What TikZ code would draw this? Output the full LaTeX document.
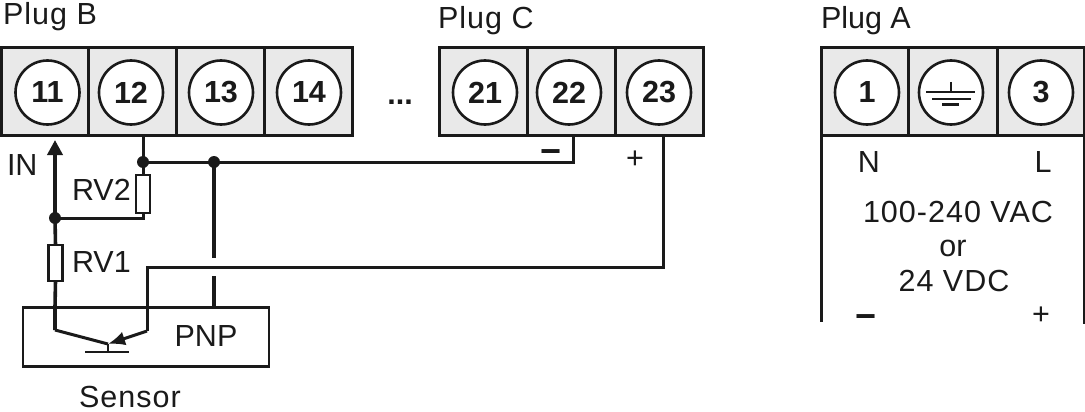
\documentclass[tikz,border=0pt]{standalone}
\usepackage{fontspec}
\setmainfont{Liberation Sans}
\usetikzlibrary{arrows.meta}
\definecolor{ink}{HTML}{1A1A1A}
\definecolor{cell}{HTML}{E9E9E9}
\tikzset{
  every node/.style={inner sep=0pt,outer sep=0pt,text=ink},
  cellbox/.style={draw=ink,line width=3pt,fill=cell,rectangle,minimum width=#1,minimum height=87pt,anchor=north west},
  term/.style={draw=ink,line width=2.6pt,fill=white,circle,minimum size=64pt,font=\fontsize{30.5}{30.5}\selectfont\bfseries},
  wire/.style={draw=ink,line width=3pt},
  heavy wire/.style={draw=ink,line width=3.6pt},
  thin wire/.style={draw=ink,line width=2.6pt},
  lbl/.style={font=\fontsize{30.5}{34}\selectfont,align=center},
  wide lbl/.style={font=\fontsize{30.5}{34}\selectfont\addfontfeature{LetterSpace=3.3},align=center},
  sign/.style={font=\fontsize{36}{36}\selectfont\bfseries},
  res/.style={draw=ink,line width=2.8pt,fill=white,rectangle,minimum width=14pt,minimum height=#1},
  dot/.style={circle,fill=ink,minimum size=12pt}
}
\begin{document}
\begin{tikzpicture}[x=1pt,y=-1pt]
\useasboundingbox (0,0) rectangle (1085,412);
% Plug B
\node[cellbox=87pt] (b11) at (1.5,48) {};
\node[cellbox=88pt] (b12) at (88.5,48) {};
\node[cellbox=88pt] (b13) at (176.5,48) {};
\node[cellbox=88pt] (b14) at (264.5,48) {};
\node[term] (t11) at (47.5,92.5) {11};
\node[term] (t12) at (131,92.5) {12};
\node[term] (t13) at (221,92.5) {13};
\node[term] (t14) at (309,92.5) {14};
% Plug C
\node[cellbox=88pt] (c21) at (439,48) {};
\node[cellbox=88pt] (c22) at (527,48) {};
\node[cellbox=88pt] (c23) at (615,48) {};
\node[term] (t21) at (485,92.5) {21};
\node[term] (t22) at (569,92.5) {22};
\node[term] (t23) at (659,92.5) {23};
% Plug A
\node[cellbox=87pt] (a1) at (821,48) {};
\node[cellbox=89pt] (a2) at (908,48) {};
\node[cellbox=87pt] (a3) at (997,48) {};
\node[term] (t1) at (867,92.5) {1};
\node[term] (t2) at (951,92.5) {};
\node[term] (t3) at (1041,92.5) {3};
% earth symbol
\coordinate (g0) at (951,82);
\coordinate (g1) at (951,92);
\draw[thin wire] (g0) -- (g1);
\draw[thin wire] (926,92) -- (975,92);
\draw[thin wire] (932,99) -- (971,99);
\draw[thin wire] (942,104.5) -- (959,104.5);
% labels
\node[wide lbl,anchor=base west] (lb) at (3,25) {Plug B};
\node[wide lbl,anchor=base west] (lc) at (438,29) {Plug C};
\node[lbl,anchor=base west] (la) at (821,29) {Plug A};
\node[lbl,anchor=base] (dots) at (400,105) {\bfseries ...};
\node[lbl,anchor=base west] (in) at (7,175) {IN};
\node[lbl,anchor=base west] (rv2) at (72,200) {RV2};
\node[lbl,anchor=base west] (rv1) at (72,272) {RV1};
\node[lbl,anchor=base] (pnp) at (206,346) {PNP};
\node[wide lbl,anchor=base] (sensor) at (130,407) {Sensor};
\node[sign,anchor=base] (mc) at (551,163) {−};
\node[lbl,anchor=base] (pc) at (635,168) {+};
\node[lbl,anchor=base] (n) at (869,172) {N};
\node[lbl,anchor=base] (l) at (1043,172) {L};
\node[wide lbl,anchor=base] (v1) at (958,222) {100-240 VAC};
\node[lbl,anchor=base] (v2) at (953,256) {or};
\node[wide lbl,anchor=base] (v3) at (954,291) {24 VDC};
\node[sign,anchor=base] (m) at (866,328) {−};
\node[lbl,anchor=base] (p) at (1041,324) {+};
% Plug A side lines
\coordinate (as1) at (821,135);
\coordinate (as2) at (821,322);
\coordinate (as3) at (1084,135);
\coordinate (as4) at (1084,324);
\draw[wire] (as1) -- (as2);
\draw[wire] (as3) -- (as4);
% Sensor
\node[draw=ink,line width=2.8pt,rectangle,minimum width=246pt,minimum height=59pt,anchor=north west] (sens) at (23,307.5) {};
\coordinate (s12) at (143,135);
\coordinate (j12) at (143,162);
\coordinate (j13) at (214,162);
\coordinate (s22) at (573,135);
\coordinate (c22c) at (573,162);
\coordinate (s23) at (663.5,135);
\coordinate (c23c) at (663.5,267.5);
\coordinate (e0) at (147,267.5);
\coordinate (e1) at (147,331);
\coordinate (base) at (108,344);
\coordinate (c1) at (55,330);
\coordinate (sTop1) at (55,307.5);
\coordinate (sTop2) at (214,307.5);
\coordinate (gapA) at (214,258);
\coordinate (gapB) at (214,276);
\coordinate (bar) at (108,352);
\coordinate (barL) at (85,352);
\coordinate (barR) at (129,352);
\coordinate (inTip) at (55,140);
\coordinate (j55) at (55,218);
\coordinate (r2b) at (143,218);
\node[res=38pt] (r2) at (143,194) {};
\node[res=36pt] (r1) at (55.5,263) {};
% wires
\draw[wire] (s12) -- (j12) -- (r2.north);
\draw[wire] (j12) -- (j13) -- (c22c) -- (s22);
\draw[heavy wire] (j13) -- (gapA);
\draw[heavy wire] (gapB) -- (sTop2);
\draw[wire] (r2.south) -- (r2b) -- (j55);
\draw[heavy wire,-{Triangle[length=15pt,width=15pt]}] (j55) -- (inTip);
\draw[heavy wire] (j55) -- (r1.north);
\draw[heavy wire] (r1.south) -- (sTop1) -- (c1);
\draw[wire,line join=round] (c1) -- (base);
\draw[wire] (s23) -- (c23c) -- (e0) -- (e1);
\draw[wire,-{Latex[length=17pt,width=14pt]}] (e1) -- (base);
\draw[thin wire] (base) -- (bar);
\draw[thin wire] (barL) -- (barR);
\node[dot] (d1) at (j12) {};
\node[dot] (d2) at (j13) {};
\node[dot] (d3) at (j55) {};
\end{tikzpicture}
\end{document}
